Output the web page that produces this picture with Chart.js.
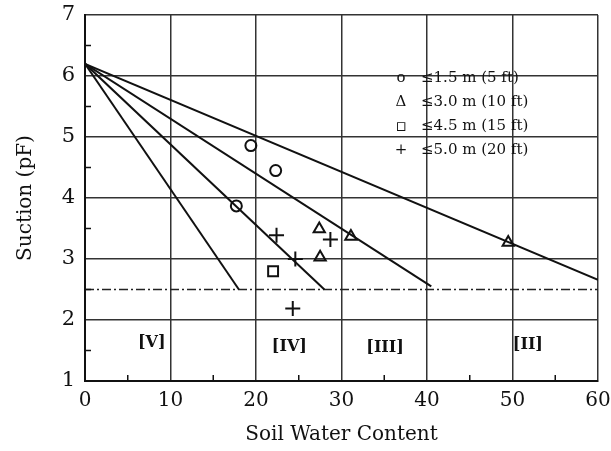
<!DOCTYPE html>
<html>
<head>
<meta charset="utf-8">
<script src="https://cdn.jsdelivr.net/npm/chart.js@4.4.0/dist/chart.umd.min.js"></script>
<style>
  html, body { margin: 0; padding: 0; background: #fff; }
  #wrap { width: 611px; height: 451px; }
</style>
</head>
<body>
<div id="wrap"><canvas id="chart"></canvas></div>
<script>
// axis ticks
const xTicks = [0, 10, 20, 30, 40, 50, 60];
const yTicks = [1, 2, 3, 4, 5, 6, 7];

// boundary lines, all starting from the same point
const lineStart = [0, 6.2];
const lineEndX = [18, 28, 40.5, 60];
const lineEndY = [2.5, 2.5, 2.55, 2.66];
const limitY = 2.5;

// measured points by depth
const circleX = [19.4, 22.3, 17.7];
const circleY = [4.86, 4.45, 3.87];
const triX = [27.4, 31.1, 27.5, 49.5];
const triY = [3.49, 3.37, 3.03, 3.27];
const squareX = [22.0];
const squareY = [2.8];
const plusX = [22.4, 24.6, 28.7, 24.3];
const plusY = [3.39, 3.0, 3.32, 2.19];

// zone labels
const zoneNames = ["[V]", "[IV]", "[III]", "[II]"];
const zoneX = [7.8, 23.9, 35.1, 51.8];
const zoneY = [1.62, 1.56, 1.55, 1.6];

const legendLines = ["≤1.5 m (5 ft)", "≤3.0 m (10 ft)", "≤4.5 m (15 ft)", "≤5.0 m (20 ft)"];
const legendSymbols = ["o", "Δ", "▫", "+"];

const serif = "'DejaVu Serif'";
const pts = (xs, ys) => xs.map((x, i) => ({ x: x, y: ys[i] }));

const datasets = [];
lineEndX.forEach((ex, i) => {
  datasets.push({
    type: "line",
    data: [{ x: lineStart[0], y: lineStart[1] }, { x: ex, y: lineEndY[i] }],
    borderColor: "#111",
    borderWidth: 2,
    pointRadius: 0,
    fill: false
  });
});
datasets.push({
  type: "line",
  data: [{ x: 0, y: limitY }, { x: 60, y: limitY }],
  borderColor: "#222",
  borderWidth: 1.5,
  borderDash: [9, 3, 2, 3],
  pointRadius: 0
});

const markerBase = {
  showLine: false,
  borderColor: "#111",
  backgroundColor: "rgba(255,255,255,0)",
  borderWidth: 2
};
datasets.push(Object.assign({}, markerBase, { data: pts(circleX, circleY), pointStyle: "circle", pointRadius: 5.5 }));
datasets.push(Object.assign({}, markerBase, { data: pts(triX, triY), pointStyle: "triangle", pointRadius: 6.5 }));
datasets.push(Object.assign({}, markerBase, { data: pts(squareX, squareY), pointStyle: "rect", pointRadius: 7 }));
datasets.push(Object.assign({}, markerBase, { data: pts(plusX, plusY), pointStyle: "cross", pointRadius: 7.5 }));

const extras = {
  id: "extras",
  afterDatasetsDraw(chart) {
    const ctx = chart.ctx;
    const xs = chart.scales.x, ys = chart.scales.y;
    const a = chart.chartArea;
    ctx.save();
    // minor ticks inside the frame
    ctx.strokeStyle = "#111";
    ctx.lineWidth = 1.5;
    for (let v = 5; v < 60; v += 10) {
      const px = xs.getPixelForValue(v);
      ctx.beginPath(); ctx.moveTo(px, a.bottom); ctx.lineTo(px, a.bottom - 6); ctx.stroke();
    }
    for (let v = 1.5; v < 7; v += 1) {
      const py = ys.getPixelForValue(v);
      ctx.beginPath(); ctx.moveTo(a.left, py); ctx.lineTo(a.left + 6, py); ctx.stroke();
    }
    // zone labels
    ctx.fillStyle = "#111";
    ctx.font = "bold 16px " + serif;
    ctx.textAlign = "center";
    ctx.textBaseline = "middle";
    zoneNames.forEach((t, i) => {
      ctx.fillText(t, xs.getPixelForValue(zoneX[i]), ys.getPixelForValue(zoneY[i]));
    });
    // legend
    legendLines.forEach((t, i) => {
      const y = 78 + i * 24.2;
      ctx.font = (i === 2 ? "bold 17px " : "15px ") + serif;
      ctx.textAlign = "center";
      ctx.fillText(legendSymbols[i], 401, y);
      ctx.font = "15px " + serif;
      ctx.textAlign = "left";
      ctx.fillText(t, 421, y);
    });
    ctx.restore();
  }
};

new Chart(document.getElementById("chart"), {
  type: "scatter",
  data: { datasets: datasets },
  options: {
    responsive: true,
    maintainAspectRatio: false,
    animation: false,
    layout: { padding: { top: 15, right: 13, left: 0, bottom: 0 } },
    plugins: { legend: { display: false }, tooltip: { enabled: false } },
    scales: {
      x: {
        type: "linear",
        min: 0,
        max: 60,
        afterBuildTicks: s => { s.ticks = xTicks.map(v => ({ value: v })); },
        afterFit: s => { s.height = 70; s.paddingLeft = 0; s.paddingRight = 0; },
        grid: { color: "#333", lineWidth: 1.5, drawTicks: false },
        border: { color: "#111", width: 2 },
        ticks: { color: "#111", padding: 8, font: { family: serif, size: 20 } },
        title: { display: true, text: "Soil Water Content", color: "#111", padding: { top: 6 }, font: { family: serif, size: 20 } }
      },
      y: {
        type: "linear",
        min: 1,
        max: 7,
        afterBuildTicks: s => { s.ticks = yTicks.map(v => ({ value: v })); },
        afterFit: s => { s.width = 85; s.paddingTop = 0; s.paddingBottom = 0; },
        grid: { color: "#333", lineWidth: 1.5, drawTicks: false },
        border: { color: "#111", width: 2 },
        ticks: { color: "#111", padding: 10, font: { family: serif, size: 21 } },
        title: { display: true, text: "Suction (pF)", color: "#111", padding: { top: 14, bottom: 0 }, font: { family: serif, size: 20 } }
      }
    }
  },
  plugins: [extras]
});
</script>
</body>
</html>
